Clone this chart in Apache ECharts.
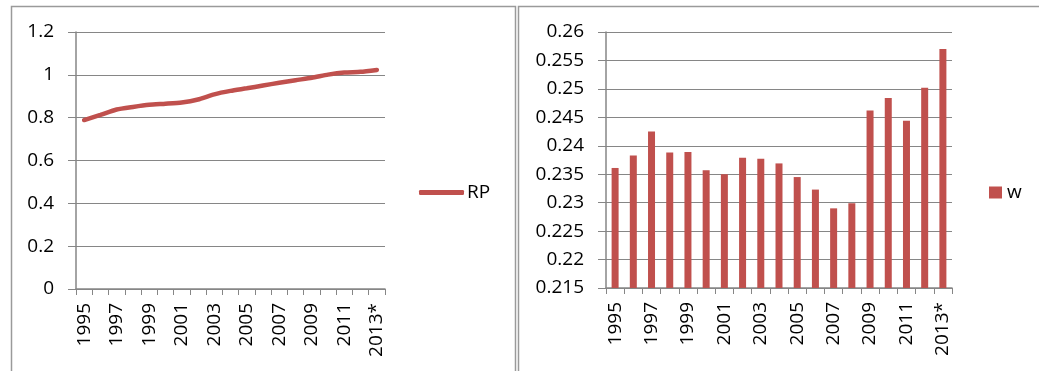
<!DOCTYPE html>
<html>
<head>
<meta charset="utf-8">
<script src="https://cdn.jsdelivr.net/npm/echarts@6/dist/echarts.min.js"></script>
<style>
html,body{margin:0;padding:0;background:#fff;}
#c{width:1039px;height:371px;}
</style>
</head>
<body>
<div id="c"></div>
<script>
const categories = ['1995','1996','1997','1998','1999','2000','2001','2002','2003','2004','2005','2006','2007','2008','2009','2010','2011','2012','2013*'];
const rpValues = [0.789,0.813,0.838,0.850,0.860,0.865,0.871,0.885,0.909,0.925,0.937,0.950,0.963,0.975,0.986,1.001,1.011,1.014,1.023];
const wValues = [0.2361,0.2383,0.2425,0.2388,0.2389,0.2357,0.2350,0.2379,0.2377,0.2369,0.2345,0.2323,0.2290,0.2299,0.2462,0.2484,0.2444,0.2502,0.2570];
const rpName = 'RP';
const wName = 'w';

const FONT = 'Open Sans';
const RED = '#C0504D';
const GRID = '#868686';

const chart = echarts.init(document.getElementById('c'), null, {renderer:'canvas'});

function xAxisCfg(gridIndex){
  return {
    type:'category', gridIndex, data:categories, boundaryGap:true,
    axisLine:{show:true, lineStyle:{color:GRID, width:1.5}},
    axisTick:{show:true, interval:0, length:6, lineStyle:{color:GRID}},
    axisLabel:{interval:1, rotate:90, margin:14, color:'#000', fontFamily:FONT, fontSize:19}
  };
}

chart.setOption({
  animation:false,
  graphic:[
    {type:'rect', shape:{x:11.5, y:6.5, width:504, height:400}, style:{fill:'none', stroke:'#9a9a9a', lineWidth:1.5}, silent:true},
    {type:'rect', shape:{x:518.5, y:6.5, width:600, height:400}, style:{fill:'none', stroke:'#9a9a9a', lineWidth:1.5}, silent:true}
  ],
  grid:[
    {left:76, top:32, width:309, height:257},
    {left:606, top:32, width:346, height:256}
  ],
  legend:[
    {data:[rpName], left:419, top:183, padding:0, itemWidth:45, itemHeight:5, icon:'roundRect',
     textStyle:{fontFamily:FONT, fontSize:19, color:'#000', padding:[0,0,0,-2]}},
    {data:[wName], left:989, top:183, padding:0, itemWidth:13, itemHeight:12, icon:'rect',
     textStyle:{fontFamily:FONT, fontSize:19, color:'#000'}}
  ],
  xAxis:[xAxisCfg(0), xAxisCfg(1)],
  yAxis:[
    {type:'value', gridIndex:0, min:0, max:1.2, interval:0.2,
     axisLine:{show:true, lineStyle:{color:GRID, width:1.5}},
     axisTick:{show:true, inside:false, length:8, lineStyle:{color:GRID}},
     splitLine:{show:true, lineStyle:{color:GRID, width:1}},
     axisLabel:{margin:22, color:'#000', fontFamily:FONT, fontSize:19,
       formatter:v=>String(Math.round(v*10)/10)}},
    {type:'value', gridIndex:1, min:0.215, max:0.26, interval:0.005,
     axisLine:{show:true, lineStyle:{color:GRID, width:1.5}},
     axisTick:{show:true, inside:false, length:8, lineStyle:{color:GRID}},
     splitLine:{show:true, lineStyle:{color:GRID, width:1}},
     axisLabel:{margin:22, color:'#000', fontFamily:FONT, fontSize:19,
       formatter:v=>String(Math.round(v*1000)/1000)}}
  ],
  series:[
    {name:rpName, type:'line', xAxisIndex:0, yAxisIndex:0, data:rpValues, smooth:0.2,
     showSymbol:false, symbol:'none', lineStyle:{color:RED, width:4.5, cap:'round'}, itemStyle:{color:RED}},
    {name:wName, type:'bar', xAxisIndex:1, yAxisIndex:1, data:wValues, barWidth:7,
     itemStyle:{color:RED}}
  ]
});
</script>
</body>
</html>
